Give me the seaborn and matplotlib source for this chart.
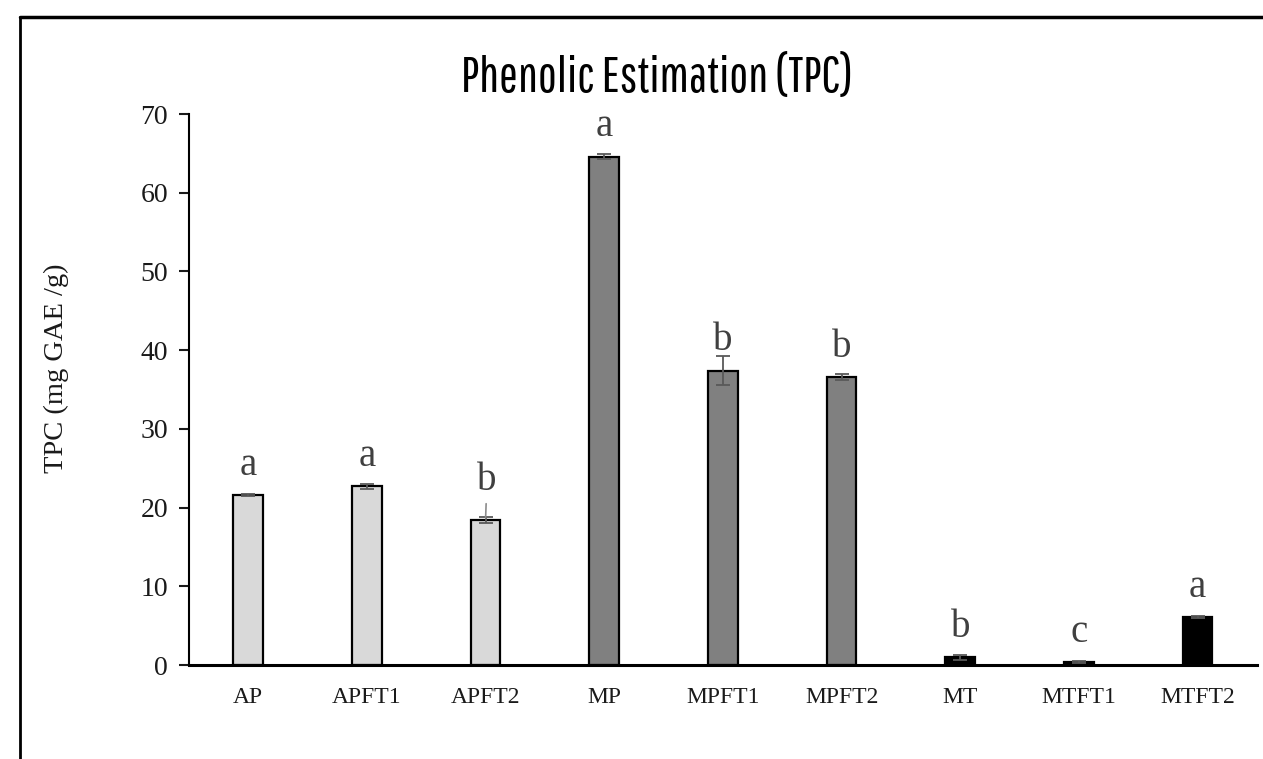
import numpy as np
import pandas as pd
import matplotlib
matplotlib.use('Agg')
import matplotlib.pyplot as plt
from matplotlib.lines import Line2D
import seaborn as sns

# 数据
samples = ['AP', 'APFT1', 'APFT2', 'MP', 'MPFT1', 'MPFT2', 'MT', 'MTFT1', 'MTFT2']
tpc = [21.6, 22.7, 18.4, 64.6, 37.4, 36.6, 1.0, 0.4, 6.1]
tpc_err = [0.1, 0.3, 0.4, 0.3, 1.8, 0.4, 0.3, 0.1, 0.1]
letters = ['a', 'a', 'b', 'a', 'b', 'b', 'b', 'c', 'a']
bar_colors = ['#d9d9d9'] * 3 + ['#808080'] * 3 + ['#000000'] * 3

sns.set_style('white')
plt.rcParams['font.family'] = ['Liberation Serif', 'DejaVu Serif']

df = pd.DataFrame({'sample': samples, 'tpc': tpc})

fig = plt.figure(figsize=(12.63, 7.59), dpi=100)
ax = fig.add_axes([0.1496, 0.1238, 0.8456, 0.726])

sns.barplot(data=df, x='sample', y='tpc', hue='sample', palette=bar_colors,
            legend=False, width=0.25, edgecolor='black', linewidth=1.6, ax=ax)
ax.errorbar(np.arange(len(samples)), tpc, yerr=tpc_err, fmt='none',
            ecolor='#595959', elinewidth=1.3, capsize=5, capthick=1.3)

# 显著性字母
for i, (v, lab) in enumerate(zip(tpc, letters)):
    if samples[i] == 'APFT2':
        ax.annotate(lab, xy=(i, v + 0.3), xytext=(1, 20), textcoords='offset points',
                    ha='center', va='baseline', fontsize=28, color='#404040',
                    arrowprops=dict(arrowstyle='-', color='#8c8c8c', lw=1.2,
                                    shrinkA=1, shrinkB=0))
    else:
        ax.annotate(lab, xy=(i, v), xytext=(0, 14.5), textcoords='offset points',
                    ha='center', va='baseline', fontsize=28, color='#404040')

ax.set_ylim(0, 70)
ax.set_xlim(-0.5, len(samples) - 0.5)
ax.set_yticks(range(0, 71, 10))
ax.set_xlabel('')
ax.set_ylabel('TPC (mg GAE /g)', fontsize=20.5, color='#1a1a1a')
ax.yaxis.set_label_coords(-0.112, 0.539)
ax.tick_params(axis='y', which='both', left=True, length=7, width=1.5,
               labelsize=20, colors='#1a1a1a', pad=8)
ax.tick_params(axis='x', bottom=False, labelsize=17, colors='#1a1a1a', pad=12)

for side in ['top', 'right']:
    ax.spines[side].set_visible(False)
ax.spines['left'].set_linewidth(1.5)
ax.spines['bottom'].set_linewidth(2.2)
ax.spines['left'].set_color('black')
ax.spines['bottom'].set_color('black')

fig.text(0.5206, 0.897, 'Phenolic Estimation (TPC)', ha='center', va='center',
         fontsize=36, family=['Pathway Gothic One', 'Roboto Condensed', 'DejaVu Sans'],
         color='black')

# 图表外框（左边和上边）
fig.add_artist(Line2D([0.0158, 0.0158], [0.0, 0.978], color='black', lw=2,
                      transform=fig.transFigure))
fig.add_artist(Line2D([0.0158, 1.0], [0.978, 0.978], color='black', lw=2.5,
                      transform=fig.transFigure))

fig.savefig('out.png', dpi=100)
